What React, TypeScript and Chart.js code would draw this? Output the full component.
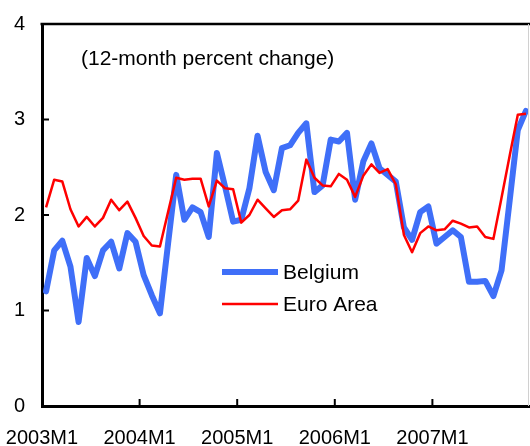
import React, { useEffect, useRef } from "react";
import { Chart, registerables } from "chart.js";

Chart.register(...registerables);

const years = ["2003", "2004", "2005", "2006", "2007"];
const months = ["M1", "M2", "M3", "M4", "M5", "M6", "M7", "M8", "M9", "M10", "M11", "M12"];
const categories: string[] = years.flatMap((y) => months.map((m) => y + m));

const yearTickLabels = ["2003M1", "2004M1", "2005M1", "2006M1", "2007M1"];
const yTicks = [0, 1, 2, 3, 4];

const belgium = [
  1.20, 1.63, 1.73, 1.46, 0.88, 1.55, 1.36, 1.63, 1.72, 1.44, 1.81, 1.72,
  1.37, 1.16, 0.97, 1.70, 2.42, 1.95, 2.08, 2.03, 1.77, 2.65, 2.30, 1.93,
  1.95, 2.28, 2.83, 2.45, 2.26, 2.70, 2.73, 2.86, 2.96, 2.24, 2.31, 2.79,
  2.77, 2.86, 2.16, 2.56, 2.75, 2.49, 2.42, 2.35, 1.87, 1.74, 2.03, 2.09,
  1.70, 1.77, 1.84, 1.77, 1.30, 1.30, 1.31, 1.15, 1.42, 2.15, 2.89, 3.09,
];

const euroArea = [
  2.08, 2.37, 2.35, 2.06, 1.88, 1.98, 1.88, 1.97, 2.16, 2.05, 2.14, 1.97,
  1.78, 1.68, 1.67, 2.03, 2.39, 2.37, 2.38, 2.38, 2.09, 2.36, 2.28, 2.27,
  1.92, 2.00, 2.16, 2.07, 1.98, 2.05, 2.06, 2.15, 2.58, 2.39, 2.31, 2.30,
  2.43, 2.37, 2.19, 2.41, 2.53, 2.44, 2.48, 2.32, 1.79, 1.61, 1.81, 1.88,
  1.84, 1.85, 1.94, 1.91, 1.87, 1.88, 1.77, 1.75, 2.18, 2.62, 3.05, 3.06,
];

const seriesNames = ["Belgium", "Euro Area"];
const seriesColors = ["#3f6ff8", "#ff0000"];
const noteText = "(12-month percent change)";

const FONT = "'Liberation Sans', Arial, sans-serif";

const decorPlugin = {
  id: "decor",
  afterDraw(chart: any) {
    const { ctx, chartArea } = chart;
    const xs = chart.scales.x;
    const ys = chart.scales.y;
    const { left, right, top, bottom } = chartArea;
    ctx.save();
    // top border
    ctx.strokeStyle = "#000";
    ctx.lineWidth = 2.5;
    ctx.beginPath();
    ctx.moveTo(left - 1.5, top);
    ctx.lineTo(right, top);
    ctx.stroke();
    // right light border
    ctx.strokeStyle = "#d0d0d0";
    ctx.lineWidth = 1;
    ctx.beginPath();
    ctx.moveTo(right - 1.5, top);
    ctx.lineTo(right - 1.5, bottom);
    ctx.stroke();
    // inward y ticks
    ctx.strokeStyle = "#000";
    ctx.lineWidth = 2;
    yTicks.slice(1, -1).forEach((v) => {
      const y = ys.getPixelForValue(v);
      ctx.beginPath();
      ctx.moveTo(left, y);
      ctx.lineTo(left + 7, y);
      ctx.stroke();
    });
    // inward x ticks
    yearTickLabels.forEach((_, k) => {
      if (k === 0) return;
      const x = xs.getPixelForValue(k * 12);
      ctx.beginPath();
      ctx.moveTo(x, bottom);
      ctx.lineTo(x, bottom - 7);
      ctx.stroke();
    });
    // note
    ctx.fillStyle = "#000";
    ctx.font = `21px ${FONT}`;
    ctx.textBaseline = "middle";
    ctx.textAlign = "left";
    ctx.fillText(noteText, 81, 59);
    // legend
    const ds = chart.data.datasets;
    const legendY = [272, 304];
    ds.forEach((d: any, i: number) => {
      ctx.strokeStyle = d.borderColor;
      ctx.lineWidth = d.borderWidth;
      ctx.lineCap = "butt";
      ctx.beginPath();
      ctx.moveTo(222, legendY[i]);
      ctx.lineTo(278, legendY[i]);
      ctx.stroke();
      ctx.fillStyle = "#000";
      ctx.fillText(d.label, 283, legendY[i] + 1);
    });
    ctx.restore();
  },
};

export default function App() {
  const ref = useRef<HTMLCanvasElement>(null);
  useEffect(() => {
    if (!ref.current) return;
    const chart = new Chart(ref.current, {
      type: "line",
      data: {
        datasets: [
          {
            label: seriesNames[0],
            data: belgium.map((v, i) => ({ x: i + 0.5, y: v })),
            borderColor: seriesColors[0],
            borderWidth: 6,
            pointRadius: 0,
            tension: 0,
            borderJoinStyle: "round",
            borderCapStyle: "round",
            order: 1,
          },
          {
            label: seriesNames[1],
            data: euroArea.map((v, i) => ({ x: i + 0.5, y: v })),
            borderColor: seriesColors[1],
            borderWidth: 2.5,
            pointRadius: 0,
            tension: 0,
            borderJoinStyle: "round",
            order: 0,
          },
        ],
      },
      options: {
        responsive: false,
        animation: false,
        layout: { autoPadding: false, padding: { top: 24, right: 0, left: 0, bottom: 0 } },
        plugins: { legend: { display: false }, tooltip: { enabled: false }, title: { display: false } },
        scales: {
          x: {
            type: "linear",
            min: 0,
            max: categories.length,
            grid: { display: false, drawTicks: false },
            border: { display: true, color: "#000", width: 3 },
            afterBuildTicks: (scale: any) => {
              scale.ticks = yearTickLabels.map((_, k) => ({ value: k * 12 }));
            },
            afterFit: (scale: any) => {
              scale.height = 40;
              scale.paddingLeft = 0;
              scale.paddingRight = 0;
              scale.paddingTop = 0;
              scale.paddingBottom = 0;
            },
            ticks: {
              autoSkip: false,
              maxRotation: 0,
              padding: 20,
              color: "#000",
              font: { family: FONT, size: 20 },
              callback: (v: any) => yearTickLabels[Math.round(Number(v) / 12)] ?? "",
            },
          },
          y: {
            min: 0,
            max: 4,
            grid: { display: false, drawTicks: false },
            border: { display: true, color: "#000", width: 3 },
            afterBuildTicks: (scale: any) => {
              scale.ticks = yTicks.map((v) => ({ value: v }));
            },
            afterFit: (scale: any) => {
              scale.width = 42;
              scale.paddingLeft = 0;
              scale.paddingRight = 0;
              scale.paddingTop = 0;
              scale.paddingBottom = 0;
            },
            ticks: {
              padding: 17,
              color: "#000",
              font: { family: FONT, size: 20 },
            },
          },
        },
      },
      plugins: [decorPlugin],
    });
    return () => chart.destroy();
  }, []);
  return (
    <div style={{ position: "fixed", left: 0, top: 0, width: 530, height: 446, background: "#fff" }}>
      <canvas ref={ref} width={530} height={446} style={{ display: "block" }} />
    </div>
  );
}
